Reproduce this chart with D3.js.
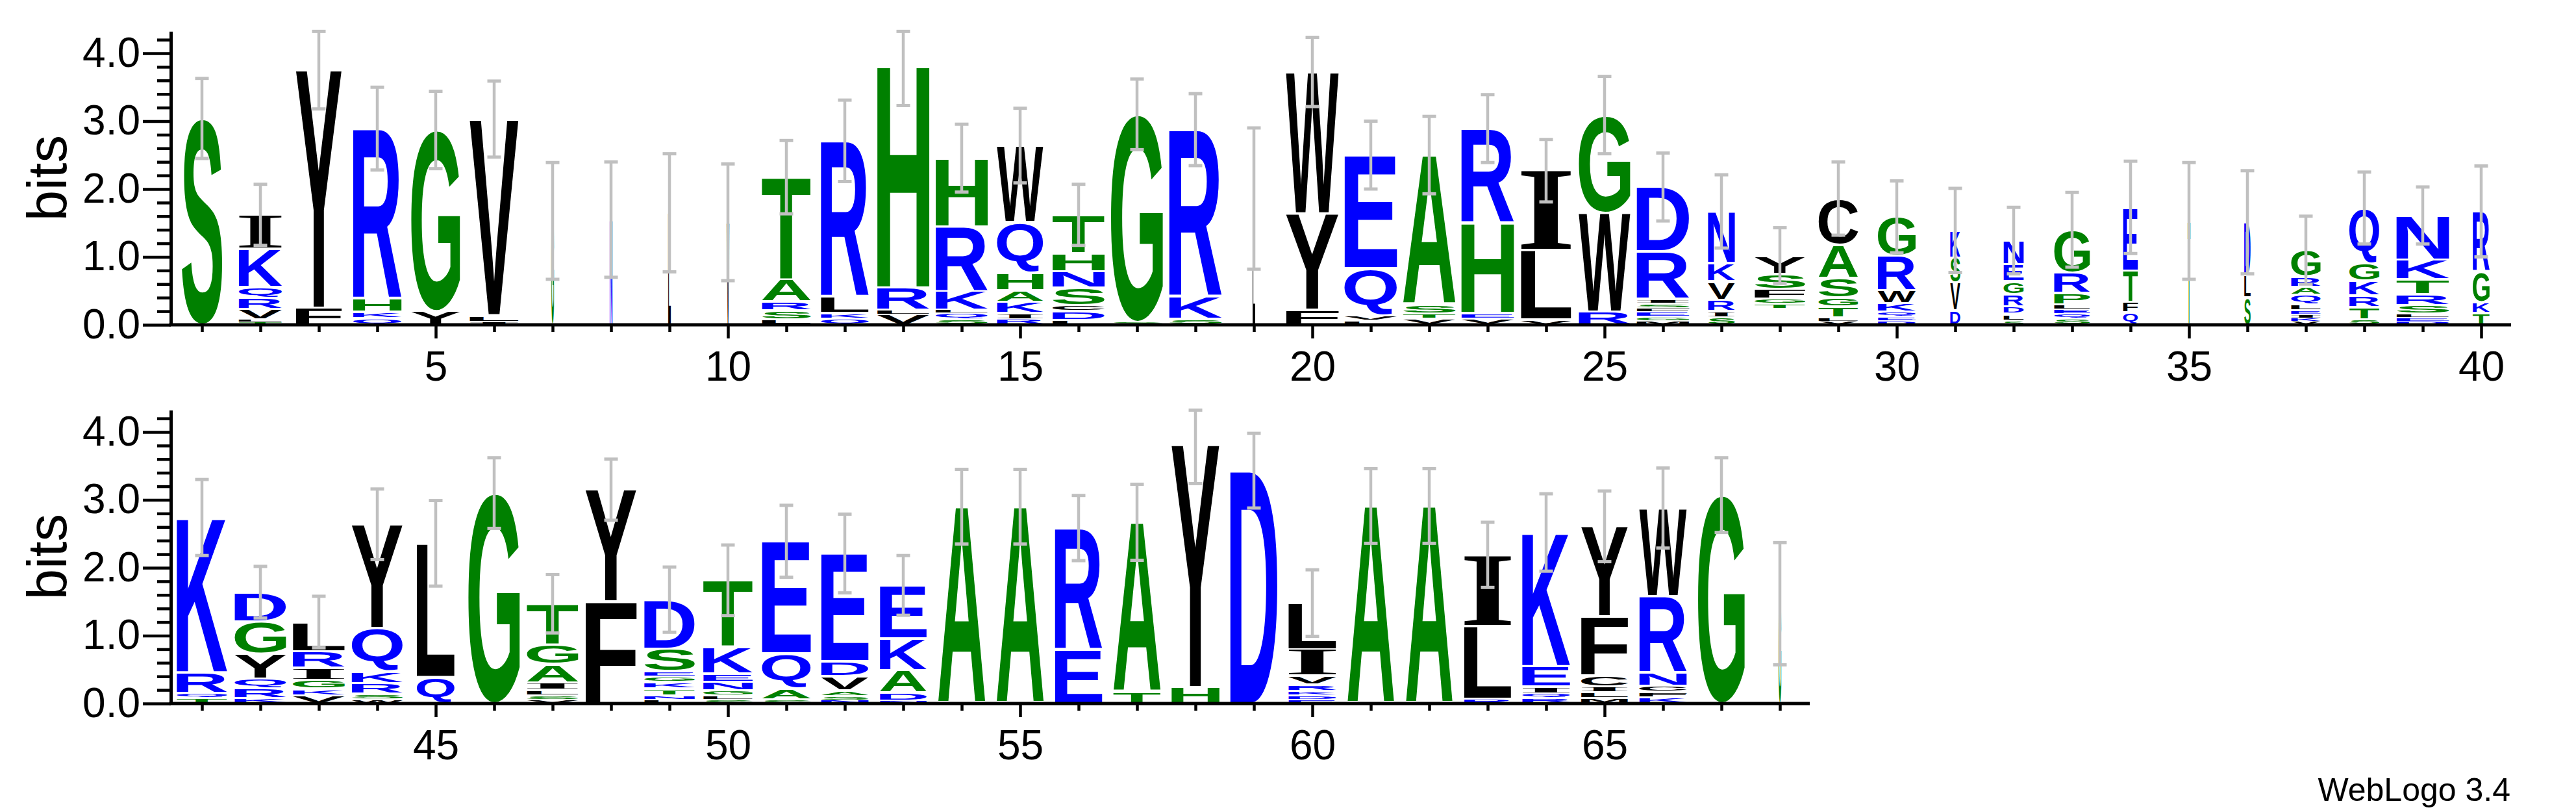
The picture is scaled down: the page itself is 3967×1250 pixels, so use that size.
<!DOCTYPE html>
<html>
<head>
<meta charset="utf-8">
<script src="https://cdnjs.cloudflare.com/ajax/libs/d3/7.8.5/d3.min.js"></script>
<style>
  body { margin: 0; background: #fff; }
  svg { display: block; background: #fff; }
</style>
</head>
<body>
<svg></svg>
<script>
// letter heights in bits, bottom of the stack first ("-" = empty space)
const row1Stacks = [
  "S:3.04",
  "T:.04 L:.035 V:.155 R:.17 Q:.16 K:.56 I:.50",
  "F:.25 Y:3.51",
  "Q:.10 K:.09 H:.19 R:2.51",
  "Y:.20 G:2.67",
  "I:.04 L:.10 V:2.89",
  "G:1.53",
  "N:1.55",
  "L:1.65",
  "V:1.51",
  "L:.08 S:.13 R:.13 A:.325 T:1.51",
  "Q:.095 K:.075 L:.24 R:2.30",
  "V:.15 L:.07 R:.33 H:3.28",
  "S:.085 Q:.085 L:.05 K:.275 R:.955 H:1.005",
  "R:.085 I:.085 K:.17 A:.17 H:.26 Q:.74 W:1.13",
  "L:.07 D:.13 C:.09 S:.255 N:.24 H:.265 T:.57",
  "S:.04 G:3.06",
  "S:.085 K:.325 R:2.465",
  "L:1.86",
  "F:.22 Y:1.42 W:2.085",
  "L:.06 V:.08 Q:.695 E:1.665",
  "V:.095 T:.07 S:.135 A:2.20",
  "V:.095 E:.075 H:1.33 R:1.39",
  "V:.075 L:1.025 I:1.17",
  "R:.19 W:1.46 G:1.44",
  "M:.06 G:.06 E:.065 F:.065 S:.065 I:.065 R:.70 D:.95",
  "S:.11 I:.09 R:.17 V:.27 K:.27 N:.76",
  "-:.24 T:.07 G:.07 F:.15 S:.22 Y:.27",
  "V:.05 L:.06 T:.16 G:.13 S:.29 A:.49 C:.68",
  "D:.06 E:.06 Q:.07 K:.13 W:.19 R:.51 G:.57",
  "D:.21 V:.41 S:.37 K:.40",
  "S:.06 L:.10 D:.11 R:.18 G:.19 E:.25 N:.35",
  "S:.10 Q:.06 E:.07 L:.07 P:.17 R:.30 G:.63",
  "Q:.18 F:.16 T:.46 E:.93",
  "T:1.53",
  "S:.40 L:.33 D:.78",
  "V:.05 K:.05 I:.05 E:.06 L:.09 Q:.14 A:.12 R:.15 G:.39",
  "S:.08 T:.18 R:.17 K:.22 G:.26 Q:.81",
  "D:.05 E:.05 L:.06 S:.13 R:.16 T:.22 K:.29 N:.65",
  "T:.17 K:.16 G:.45 R:.89"
];
const row1Errors = [0.59, 0.45, 0.58, 0.61, 0.57, 0.56, 0.86, 0.85, 0.87, 0.86,
  0.54, 0.60, 0.60, 0.50, 0.55, 0.45, 0.52, 0.53, 1.04, 0.51,
  0.50, 0.57, 0.50, 0.46, 0.57, 0.50, 0.54, 0.41, 0.54, 0.53,
  0.62, 0.49, 0.55, 0.68, 0.86, 0.76, 0.50, 0.53, 0.42, 0.67];
// fraction of sequences present at each column (stack width)
const row1Widths = [0.77, 0.82, 0.87, 0.92, 0.93, 0.93, 0.05, 0.05, 0.05, 0.05,
  0.93, 0.91, 0.99, 0.99, 0.88, 0.99, 0.99, 1.0, 0.05, 1.0,
  1.0, 1.0, 1.0, 0.96, 0.98, 1.0, 0.51, 0.96, 0.75, 0.72,
  0.19, 0.38, 0.68, 0.28, 0.05, 0.12, 0.56, 0.57, 1.0, 0.32];

const row2Stacks = [
  "T:.08 Q:.07 R:.31 K:2.28",
  "K:.08 R:.15 Q:.14 Y:.36 G:.48 D:.43",
  "V:.12 K:.10 G:.13 I:.18 R:.24 L:.43",
  "W:.06 S:.08 R:.16 K:.17 Q:.64 Y:1.53",
  "Q:.39 L:1.97",
  "G:3.10",
  "V:.06 S:.06 L:.08 I:.11 A:.27 G:.29 T:.60",
  "F:1.50 Y:1.65",
  "L:.06 N:.06 T:.10 K:.10 G:.08 E:.08 S:.33 D:.72",
  "S:.06 L:.06 G:.07 N:.13 E:.12 K:.39 T:.985",
  "S:.06 A:.16 Q:.52 E:1.65",
  "N:.05 S:.06 A:.08 V:.21 D:.22 E:1.59",
  "N:.04 D:.12 A:.33 K:.47 E:.78",
  "A:2.90",
  "A:2.90",
  "E:.79 R:1.795",
  "T:.17 A:2.50",
  "H:.24 Y:3.58",
  "D:3.43",
  "E:.06 D:.06 K:.06 R:.10 V:.13 I:.39 L:.68",
  "A:2.91",
  "A:2.91",
  "R:.07 L:1.07 I:1.05",
  "R:.08 Q:.07 I:.10 E:.30 K:1.97",
  "M:.08 L:.09 I:.08 C:.16 F:.87 Y:1.33",
  "K:.09 F:.08 C:.09 N:.19 R:1.13 W:1.30",
  "G:3.07",
  "G:1.47"
];
const row2Errors = [0.56, 0.38, 0.38, 0.52, 0.63, 0.52, 0.43, 0.45, 0.48, 0.52,
  0.53, 0.58, 0.44, 0.55, 0.55, 0.48, 0.56, 0.58, 0.55, 0.49,
  0.55, 0.55, 0.48, 0.57, 0.52, 0.59, 0.55, 0.90];
const row2Widths = [0.96, 0.98, 0.99, 0.97, 0.72, 0.98, 0.98, 0.97, 0.96, 0.94,
  0.93, 0.90, 0.89, 0.90, 0.90, 0.90, 0.90, 0.91, 0.90, 0.91,
  0.89, 0.89, 0.90, 0.91, 0.89, 0.90, 0.89, 0.05];

const yMajorTicks = [0, 1, 2, 3, 4];
const yMinorTicks = [0.2, 0.4, 0.6, 0.8, 1.2, 1.4, 1.6, 1.8, 2.2, 2.4, 2.6, 2.8, 3.2, 3.4, 3.6, 3.8, 4.2];

// hydrophobicity colour scheme
const hydrophilic = "RKDENQ";
const neutral = "SGHTAP";
const colorOf = l => hydrophilic.includes(l) ? "#0000ff" : neutral.includes(l) ? "#008000" : "#000000";

const width = 3967;
const height = 1250;
const maxBits = Math.log2(20);
const colStep = 90;
const fullStack = 81;
const bitPx = 104.5;
const axisX = 263;

const svg = d3.select("svg")
  .attr("width", width)
  .attr("height", height);

// ink boxes of the glyphs, so a letter can be stretched to fill its cell
const ctx = document.createElement("canvas").getContext("2d");
const glyphs = {};
const glyph = letter => {
  if (!glyphs[letter]) {
    const family = letter === "I" ? "Liberation Serif" : "Liberation Sans";
    ctx.font = `bold 200px "${family}"`;
    const m = ctx.measureText(letter);
    glyphs[letter] = {
      family: family,
      left: m.actualBoundingBoxLeft,
      right: m.actualBoundingBoxRight,
      ascent: m.actualBoundingBoxAscent,
      descent: m.actualBoundingBoxDescent
    };
  }
  return glyphs[letter];
};

const parseStack = s => s.split(" ").map(t => {
  const [letter, bits] = t.split(":");
  return {letter: letter, bits: +bits};
});

const drawRow = (stacks, errors, widths, firstPos, baseY) => {
  const n = stacks.length;
  const x = d3.scaleLinear()
    .domain([firstPos - 0.5, firstPos - 0.5 + n])
    .range([axisX + 3, axisX + 3 + n * colStep]);
  const y = d3.scaleLinear()
    .domain([0, maxBits])
    .range([baseY, baseY - maxBits * bitPx]);

  const g = svg.append("g");
  const positions = stacks.map((s, i) => firstPos + i);

  // letters
  stacks.forEach((s, i) => {
    const pos = firstPos + i;
    const w = widths[i] * fullStack;
    const x0 = x(pos) - w / 2;
    let acc = 0;
    parseStack(s).forEach(d => {
      const lo = acc;
      acc += d.bits;
      if (d.letter === "-") return;
      const yTop = y(acc), yBot = y(lo);
      const pad = Math.min(1.8, (yBot - yTop) * 0.18);
      const h = (yBot - yTop) - 2 * pad;
      const gb = glyph(d.letter);
      const sx = w / (gb.left + gb.right);
      const sy = h / (gb.ascent + gb.descent);
      g.append("text")
        .attr("transform", `translate(${x0},${yTop + pad}) scale(${sx},${sy}) translate(${gb.left},${gb.ascent})`)
        .attr("font-family", gb.family)
        .attr("font-weight", "bold")
        .attr("font-size", 200)
        .attr("fill", colorOf(d.letter))
        .text(d.letter);
    });
  });

  // error bars
  const bars = g.append("g").attr("stroke", "#c0c0c0");
  stacks.forEach((s, i) => {
    const pos = firstPos + i;
    const total = d3.sum(parseStack(s), d => d.bits);
    const top = Math.min(total + errors[i], maxBits);
    const bot = Math.max(total - errors[i], 0);
    bars.append("line")
      .attr("x1", x(pos)).attr("x2", x(pos))
      .attr("y1", y(top)).attr("y2", y(bot))
      .attr("stroke-width", 4.5);
    [top, bot].forEach(v => {
      bars.append("line")
        .attr("x1", x(pos) - 10.5).attr("x2", x(pos) + 10.5)
        .attr("y1", y(v)).attr("y2", y(v))
        .attr("stroke-width", 5);
    });
  });

  // y axis
  const yAxis = svg.append("g")
    .attr("transform", `translate(${axisX},0)`)
    .call(d3.axisLeft(y)
      .tickValues(yMajorTicks)
      .tickSize(43)
      .tickSizeOuter(0)
      .tickPadding(4)
      .tickFormat(d3.format(".1f")));
  yAxis.attr("font-size", 64).attr("font-family", "Liberation Sans");
  yAxis.select(".domain").attr("stroke-width", 5);
  yAxis.selectAll("line").attr("stroke-width", 4.5);

  svg.append("g")
    .attr("transform", `translate(${axisX},0)`)
    .call(d3.axisLeft(y).tickValues(yMinorTicks).tickSize(21).tickFormat(""))
    .call(a => a.select(".domain").remove())
    .selectAll("line").attr("stroke-width", 4.5);

  // x axis
  svg.append("line")
    .attr("x1", axisX - 2.5).attr("x2", x.range()[1] + 1)
    .attr("y1", baseY).attr("y2", baseY)
    .attr("stroke", "#000").attr("stroke-width", 5);

  svg.append("g")
    .attr("transform", `translate(0,${baseY})`)
    .call(d3.axisBottom(x).tickValues(positions.filter(p => p % 5)).tickSize(11).tickFormat(""))
    .call(a => a.select(".domain").remove())
    .selectAll("line").attr("stroke-width", 4.5);

  const xAxis = svg.append("g")
    .attr("transform", `translate(0,${baseY})`)
    .call(d3.axisBottom(x)
      .tickValues(positions.filter(p => p % 5 === 0))
      .tickSize(21)
      .tickPadding(20)
      .tickFormat(d3.format("d")));
  xAxis.select(".domain").remove();
  xAxis.attr("font-size", 64).attr("font-family", "Liberation Sans");
  xAxis.selectAll("line").attr("stroke-width", 4.5);

  svg.append("text")
    .attr("transform", `translate(102,${(y(0) + y(maxBits)) / 2}) rotate(-90)`)
    .attr("text-anchor", "middle")
    .attr("font-family", "Liberation Sans")
    .attr("font-size", 85)
    .text("bits");
};

drawRow(row1Stacks, row1Errors, row1Widths, 1, 500);
drawRow(row2Stacks, row2Errors, row2Widths, 41, 1083);

svg.append("text")
  .attr("x", 3866)
  .attr("y", 1233)
  .attr("text-anchor", "end")
  .attr("font-family", "Liberation Sans")
  .attr("font-size", 50)
  .text("WebLogo 3.4");
</script>
</body>
</html>
